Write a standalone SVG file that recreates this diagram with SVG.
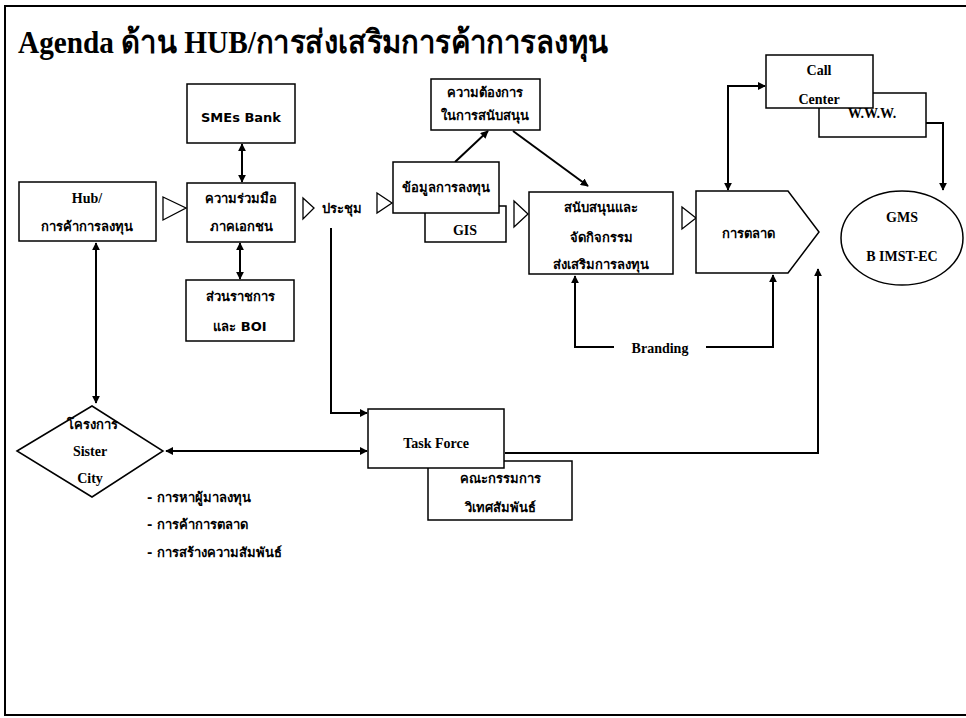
<svg xmlns="http://www.w3.org/2000/svg" width="966" height="718" viewBox="0 0 966 718">
<defs>
<marker id="ah" viewBox="0 0 10 10" refX="9" refY="5" markerWidth="8" markerHeight="8" markerUnits="userSpaceOnUse" orient="auto-start-reverse">
<path d="M0,0 L10,5 L0,10 z" fill="#000"/>
</marker>
<style>
.box{fill:#fff;stroke:#000;stroke-width:1.5}
.tri{fill:#fff;stroke:#000;stroke-width:1.3}
.conn{fill:none;stroke:#000;stroke-width:2}
.t{font-family:"Liberation Serif","DejaVu Sans","Noto Sans",serif;font-weight:bold;font-size:14px;text-anchor:middle;fill:#000}
.th{font-family:"DejaVu Sans","Noto Sans","Liberation Sans",sans-serif;font-weight:bold;font-size:13px;text-anchor:middle;fill:#000}
.bl{font-family:"DejaVu Sans","Noto Sans","Liberation Sans",sans-serif;font-weight:bold;font-size:13px;text-anchor:start;fill:#000}
</style>
</defs>
<rect width="966" height="718" fill="#fff"/>
<path d="M966,6 H5 V715 H966" fill="none" stroke="#000" stroke-width="2"/>
<text x="18" y="53" font-family="Liberation Serif, DejaVu Sans, serif" font-weight="bold" font-size="32" textLength="590" lengthAdjust="spacingAndGlyphs">Agenda ด้าน HUB/การส่งเสริมการค้าการลงทุน</text>

<g id="connectors">
<path class="conn" d="M242,144 V182" marker-start="url(#ah)" marker-end="url(#ah)"/>
<path class="conn" d="M240,243 V279" marker-start="url(#ah)" marker-end="url(#ah)"/>
<path class="conn" d="M96,243 V403" marker-start="url(#ah)" marker-end="url(#ah)"/>
<path class="conn" d="M331,228 V413 H367" marker-end="url(#ah)"/>
<path class="conn" d="M166,451 H367" marker-start="url(#ah)" marker-end="url(#ah)"/>
<path class="conn" d="M505,453 H818 V269" marker-end="url(#ah)"/>
<path class="conn" d="M614,347 H575 V276" marker-end="url(#ah)"/>
<path class="conn" d="M706,347 H773 V275" marker-end="url(#ah)"/>
<path class="conn" d="M455,162 L488,131" marker-end="url(#ah)"/>
<path class="conn" d="M513,131 L588,186" marker-end="url(#ah)"/>
<path class="conn" d="M765,86 H728 V190" marker-start="url(#ah)" marker-end="url(#ah)"/>
<path class="conn" d="M926,123 H943 V190" marker-end="url(#ah)"/>
<polygon class="tri" points="163,197 186,208 163,220"/>
<polygon class="tri" points="303,198 314,208 303,219"/>
<polygon class="tri" points="377,193 392,203 377,213"/>
<polygon class="tri" points="514,201 528,214 514,227"/>
<polygon class="tri" points="682,207 696,218 682,229"/>
</g>

<g id="smes">
<rect class="box" x="187" y="84" width="108" height="59"/>
<text class="th" x="241" y="122">SMEs Bank</text>
</g>
<g id="hub">
<rect class="box" x="19" y="182" width="137" height="59"/>
<text class="t" x="87" y="203">Hub/</text>
<text class="th" x="87" y="231">การค้าการลงทุน</text>
</g>
<g id="private">
<rect class="box" x="187" y="183" width="108" height="59"/>
<text class="th" x="241" y="203">ความร่วมมือ</text>
<text class="th" x="241" y="231">ภาคเอกชน</text>
</g>
<g id="gov">
<rect class="box" x="186" y="280" width="108" height="61"/>
<text class="th" x="240" y="301">ส่วนราชการ</text>
<text class="th" x="240" y="331">และ BOI</text>
</g>
<g id="meeting">
<text class="th" x="342" y="213">ประชุม</text>
</g>
<g id="needs">
<rect class="box" x="431" y="79" width="109" height="51"/>
<text class="th" x="485" y="97">ความต้องการ</text>
<text class="th" x="485" y="120">ในการสนับสนุน</text>
</g>
<g id="gis">
<rect class="box" x="425" y="206" width="81" height="36"/>
<text class="t" x="465" y="235" font-size="18">GIS</text>
</g>
<g id="invest-data">
<rect class="box" x="393" y="162" width="106" height="51"/>
<text class="th" x="446" y="192" font-size="12">ข้อมูลการลงทุน</text>
</g>
<g id="support">
<rect class="box" x="529" y="192" width="144" height="82"/>
<text class="th" x="601" y="212">สนับสนุนและ</text>
<text class="th" x="601" y="242">จัดกิจกรรม</text>
<text class="th" x="601" y="269">ส่งเสริมการลงทุน</text>
</g>
<g id="marketing">
<polygon class="box" points="696,191 788,191 819,232 788,273 696,273"/>
<text class="th" x="748" y="238" font-size="16">การตลาด</text>
</g>
<g id="www">
<rect class="box" x="819" y="93" width="107" height="44"/>
<text class="t" x="872" y="118">W.W.W.</text>
</g>
<g id="callcenter">
<rect class="box" x="766" y="55" width="107" height="53"/>
<text class="t" x="819" y="75" font-size="13">Call</text>
<text class="t" x="819" y="104" font-size="13">Center</text>
</g>
<g id="gms">
<ellipse class="box" cx="902" cy="238" rx="61" ry="47"/>
<text class="t" x="902" y="222">GMS</text>
<text class="t" x="902" y="261">B IMST-EC</text>
</g>
<g id="branding">
<text class="t" x="660" y="353" font-size="18">Branding</text>
</g>
<g id="committee">
<rect class="box" x="428" y="461" width="144" height="59"/>
<text class="th" x="500" y="483">คณะกรรมการ</text>
<text class="th" x="500" y="512">วิเทศสัมพันธ์</text>
</g>
<g id="taskforce">
<rect class="box" x="368" y="409" width="136" height="59"/>
<text class="t" x="436" y="448" font-size="20">Task Force</text>
</g>
<g id="sistercity">
<polygon class="box" points="17,451 92,406 163,451 92,497"/>
<text class="th" x="92" y="429">โครงการ</text>
<text class="t" x="90" y="456" font-size="13">Sister</text>
<text class="t" x="90" y="483" font-size="13">City</text>
</g>
<g id="bullets">
<text class="bl" x="147" y="502">- การหาผู้มาลงทุน</text>
<text class="bl" x="147" y="529">- การค้าการตลาด</text>
<text class="bl" x="147" y="557">- การสร้างความสัมพันธ์</text>
</g>
</svg>
